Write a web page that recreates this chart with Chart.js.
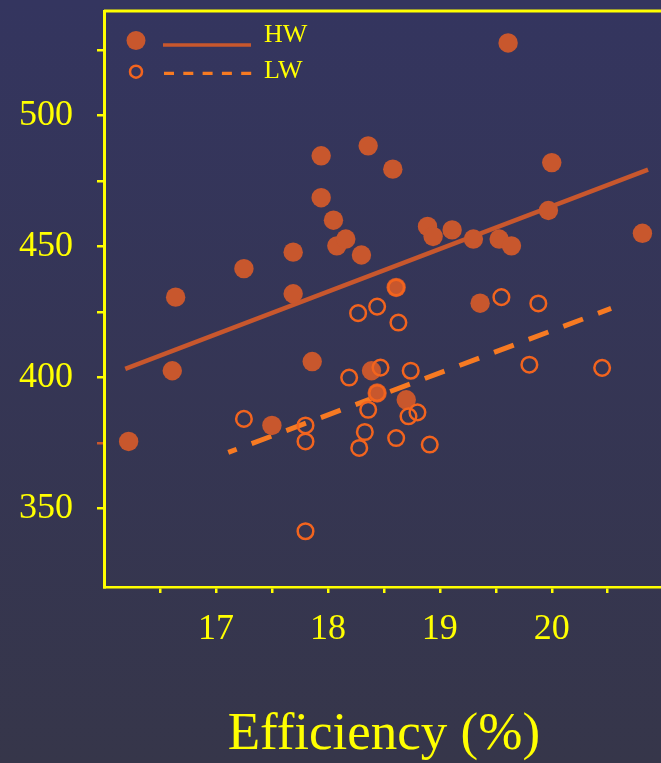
<!DOCTYPE html>
<html>
<head>
<meta charset="utf-8">
<title>Efficiency scatter</title>
<script src="https://cdn.jsdelivr.net/npm/chart.js@4.4.1/dist/chart.umd.min.js"></script>
<style>
  html, body { margin: 0; padding: 0; overflow: hidden; }
  #wrap { width: 661px; height: 763px; overflow: hidden; background: linear-gradient(#34355f, #36364a); }
  canvas { display: block; }
</style>
</head>
<body>
<div id="wrap"><canvas id="chart" width="674" height="763" style="width:674px;height:763px"></canvas></div>
<script>
// HW: filled markers
const hwX = [16.22, 16.61, 16.64, 17.25, 17.50, 17.69, 17.69, 17.86, 17.94, 17.94, 18.05, 18.08, 18.16, 18.30, 18.36, 18.39, 18.44, 18.58, 18.61, 18.70, 18.89, 18.94, 19.11, 19.30, 19.36, 19.53, 19.61, 19.64, 19.97, 20.00, 20.81];
const hwY = [375.6, 402.6, 430.7, 441.6, 381.7, 447.9, 432.0, 406.1, 484.7, 468.7, 460.1, 450.3, 452.9, 446.8, 488.5, 402.6, 394.1, 479.6, 434.4, 391.5, 457.7, 453.9, 456.4, 452.9, 428.4, 452.9, 527.8, 450.3, 463.8, 482.1, 455.1];
// LW: open markers
const lwX = [17.25, 17.80, 17.80, 17.80, 18.19, 18.27, 18.28, 18.33, 18.36, 18.44, 18.44, 18.47, 18.61, 18.61, 18.63, 18.72, 18.74, 18.80, 18.91, 19.55, 19.80, 19.88, 20.45];
const lwY = [384.2, 381.7, 375.6, 341.3, 400.0, 424.6, 373.1, 379.2, 387.7, 427.1, 394.1, 403.8, 434.4, 376.9, 421.0, 385.2, 402.6, 386.7, 374.4, 430.7, 404.9, 428.3, 403.7];
// fitted lines (end points)
const hwFitX = [16.19, 20.86];
const hwFitY = [403.3, 479.4];
const lwFitX = [17.11, 20.53];
const lwFitY = [371.4, 426.4];
// axes
const xTicks = [16.5, 17, 17.5, 18, 18.5, 19, 19.5, 20, 20.5, 21];
const xLabels = [17, 18, 19, 20];
const yTicks = [350, 375, 400, 425, 450, 475, 500, 525];
const yLabels = [350, 400, 450, 500];
const seriesNames = ['HW', 'LW'];

const YELLOW = '#ffff00';
const HW_COLOR = '#c8572d';
const LW_COLOR = '#f2641e';
const LW_LINE = '#f77a22';
const SERIF = '"Liberation Serif", "DejaVu Serif", serif';

const pts = (xs, ys) => xs.map((x, i) => ({ x, y: ys[i] }));

// no extra room for first/last tick labels, the layout is fixed
const noPad = s => { s.paddingTop = 0; s.paddingBottom = 0; s.paddingLeft = 0; s.paddingRight = 0; };

const framePlugin = {
  id: 'frame',
  beforeDatasetsDraw(chart) {
    const { ctx, chartArea: a } = chart;
    ctx.save();
    ctx.strokeStyle = YELLOW;
    ctx.lineWidth = 3;
    ctx.beginPath();
    ctx.moveTo(a.left, a.top); ctx.lineTo(a.right, a.top); ctx.lineTo(a.right, a.bottom);
    ctx.stroke();
    ctx.restore();
  }
};

const legendPlugin = {
  id: 'sketchLegend',
  afterDatasetsDraw(chart) {
    const ctx = chart.ctx;
    ctx.save();
    // HW
    ctx.fillStyle = HW_COLOR;
    ctx.beginPath(); ctx.arc(136, 40.5, 9.5, 0, Math.PI * 2); ctx.fill();
    ctx.strokeStyle = HW_COLOR; ctx.lineWidth = 3.5;
    ctx.beginPath(); ctx.moveTo(163, 45); ctx.lineTo(251, 45); ctx.stroke();
    // LW
    ctx.strokeStyle = LW_COLOR; ctx.lineWidth = 2.5;
    ctx.beginPath(); ctx.arc(136, 71.7, 6, 0, Math.PI * 2); ctx.stroke();
    ctx.strokeStyle = LW_LINE; ctx.lineWidth = 3.3; ctx.setLineDash([10, 9.3]);
    ctx.beginPath(); ctx.moveTo(164, 73.3); ctx.lineTo(252, 73.3); ctx.stroke();
    ctx.setLineDash([]);
    ctx.fillStyle = YELLOW;
    ctx.font = '26px ' + SERIF;
    ctx.textAlign = 'left'; ctx.textBaseline = 'alphabetic';
    ctx.fillText(seriesNames[0], 264, 42.3);
    ctx.fillText(seriesNames[1], 264, 77.7);
    ctx.restore();
  }
};

new Chart(document.getElementById('chart'), {
  type: 'scatter',
  data: {
    datasets: [
      { label: 'HW fit', data: pts(hwFitX, hwFitY), showLine: true, borderColor: HW_COLOR, borderWidth: 4.5, pointRadius: 0, order: 3 },
      { label: 'LW fit', data: pts(lwFitX, lwFitY), showLine: true, borderColor: LW_LINE, borderWidth: 5, borderDash: [21, 16], borderDashOffset: 12, pointRadius: 0, order: 3 },
      { label: seriesNames[0], data: pts(hwX, hwY), backgroundColor: HW_COLOR, borderWidth: 0, pointRadius: 9.7, order: 2 },
      { label: seriesNames[1], data: pts(lwX, lwY), backgroundColor: 'rgba(0,0,0,0)', borderColor: LW_COLOR, borderWidth: 2.5, pointRadius: 7.8, order: 1 }
    ]
  },
  options: {
    responsive: false,
    animation: false,
    devicePixelRatio: 1,
    layout: { padding: { top: 11, left: 0, right: 0, bottom: 0 } },
    plugins: { legend: { display: false }, tooltip: { enabled: false } },
    scales: {
      x: {
        type: 'linear', min: 16, max: 21,
        afterBuildTicks: s => { s.ticks = xTicks.map(v => ({ value: v })); },
        afterFit: s => { s.height = 176; noPad(s); },
        grid: { drawOnChartArea: false, color: YELLOW, lineWidth: 2.5, tickLength: 6 },
        border: { color: YELLOW, width: 2.5 },
        ticks: { autoSkip: false, maxRotation: 0, padding: 15, color: YELLOW, font: { family: SERIF, size: 36 },
          callback: v => xLabels.includes(v) ? String(v) : '' },
        title: { display: true, text: 'Efficiency (%)', color: YELLOW, font: { family: SERIF, size: 53 }, padding: { top: 0, bottom: -4 } }
      },
      y: {
        type: 'linear', min: 320, max: 540,
        afterBuildTicks: s => { s.ticks = yTicks.map(v => ({ value: v })); },
        afterFit: s => { s.width = 104; noPad(s); },
        grid: { drawOnChartArea: false, lineWidth: 2.5, tickLength: 7,
          color: c => (c.tick && c.tick.value === 375) ? HW_COLOR : YELLOW },
        border: { color: YELLOW, width: 3 },
        ticks: { autoSkip: false, padding: 24, color: YELLOW, font: { family: SERIF, size: 36 },
          callback: v => yLabels.includes(v) ? String(v) : '' }
      }
    }
  },
  plugins: [framePlugin, legendPlugin]
});
</script>
</body>
</html>
